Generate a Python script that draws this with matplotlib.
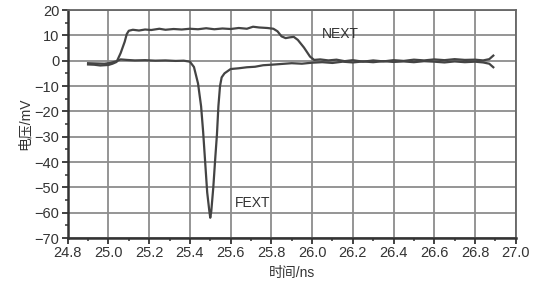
import numpy as np
import matplotlib.pyplot as plt
from matplotlib.ticker import MultipleLocator

plt.rcParams['font.family'] = ['Liberation Sans', 'Noto Sans CJK SC', 'DejaVu Sans']

# NEXT (near-end crosstalk), time in ns, voltage in mV
next_t = [24.90, 24.93, 24.96, 25.00, 25.02, 25.04, 25.06, 25.08, 25.09, 25.10,
          25.12, 25.15, 25.18, 25.21, 25.25, 25.28, 25.32, 25.36, 25.40, 25.44,
          25.48, 25.52, 25.56, 25.60, 25.64, 25.68, 25.71, 25.74, 25.78, 25.81,
          25.83, 25.85, 25.87, 25.89, 25.91, 25.93, 25.96, 25.99, 26.01, 26.04,
          26.08, 26.12, 26.16, 26.20, 26.25, 26.30, 26.35, 26.40, 26.45, 26.50,
          26.55, 26.60, 26.65, 26.70, 26.75, 26.80, 26.84, 26.87, 26.89]
next_v = [-1.5, -1.6, -1.9, -1.7, -1.2, -0.5, 3.0, 7.5, 10.5, 11.8,
          12.2, 11.9, 12.3, 12.1, 12.6, 12.2, 12.5, 12.3, 12.6, 12.4,
          12.8, 12.4, 12.7, 12.5, 12.9, 12.6, 13.4, 13.1, 12.9, 12.6,
          11.6, 9.6, 8.9, 9.2, 9.4, 8.2, 5.2, 1.6, 0.3, 0.5,
          0.1, 0.4, -0.2, 0.2, -0.4, 0.1, -0.3, 0.2, -0.1, 0.4,
          0.1, 0.5, 0.2, 0.6, 0.3, 0.4, 0.1, 0.6, 2.0]

# FEXT (far-end crosstalk)
fext_t = [24.90, 24.94, 24.98, 25.01, 25.04, 25.06, 25.09, 25.13, 25.18, 25.23,
          25.28, 25.33, 25.37, 25.40, 25.42, 25.44, 25.455, 25.465, 25.475, 25.485,
          25.495, 25.50, 25.505, 25.515, 25.525, 25.533, 25.54, 25.548, 25.556, 25.57,
          25.60, 25.64, 25.68, 25.72, 25.76, 25.80, 25.85, 25.90, 25.95, 26.00,
          26.05, 26.10, 26.15, 26.20, 26.25, 26.30, 26.35, 26.40, 26.45, 26.50,
          26.55, 26.60, 26.65, 26.70, 26.75, 26.80, 26.84, 26.87, 26.89]
fext_v = [-1.0, -1.1, -1.2, -0.9, -0.2, 0.5, 0.3, 0.1, 0.2, 0.0,
          0.1, -0.1, 0.0, -0.4, -2.5, -9.0, -18.0, -28.0, -40.0, -52.0,
          -59.0, -62.0, -59.5, -50.0, -38.0, -29.0, -18.0, -10.0, -6.6, -5.0,
          -3.3, -3.0, -2.6, -2.4, -1.8, -1.6, -1.3, -1.0, -1.2, -0.8,
          -0.6, -0.9, -0.4, -0.7, -0.3, -0.6, -0.2, -0.5, -0.3, -0.6,
          -0.2, -0.4, -0.7, -0.3, -0.6, -0.4, -0.7, -1.2, -2.6]

fig = plt.figure(figsize=(5.39, 2.81), dpi=100)
ax = fig.add_axes([0.1256, 0.153, 0.8312, 0.8114])

line_c = '#444444'
ax.plot(next_t, next_v, color=line_c, lw=1.6)
ax.plot(fext_t, fext_v, color=line_c, lw=1.6)

ax.set_xlim(24.8, 27.0)
ax.set_ylim(-70, 20)
ax.xaxis.set_major_locator(MultipleLocator(0.2))
ax.xaxis.set_minor_locator(MultipleLocator(0.1))
ax.yaxis.set_major_locator(MultipleLocator(10))
ax.yaxis.set_minor_locator(MultipleLocator(5))
ax.set_xticklabels([f'{v:.1f}' for v in ax.get_xticks()])

ax.grid(True, which='major', color='#8c8c8c', lw=1.3)
ax.set_axisbelow(True)

for s in ['top', 'right']:
    ax.spines[s].set_color('#666666')
    ax.spines[s].set_linewidth(1.3)
for s in ['left', 'bottom']:
    ax.spines[s].set_color('#333333')
    ax.spines[s].set_linewidth(1.8)

ax.tick_params(which='major', direction='out', length=4, width=1.3,
               color='#333333', labelsize=10.5, labelcolor='#333333', pad=2)
ax.tick_params(which='minor', direction='out', length=2.5, width=1.1, color='#333333')

ax.text(26.05, 10.7, 'NEXT', fontsize=10, color='#333333', va='center', ha='left')
ax.text(25.62, -56, 'FEXT', fontsize=10, color='#333333', va='center', ha='left')

ax.set_ylabel('电压/mV', fontsize=10, color='#333333', labelpad=2)
ax.set_xlabel('时间/ns', fontsize=10, color='#333333', labelpad=4)

fig.savefig('out.png', dpi=100)
